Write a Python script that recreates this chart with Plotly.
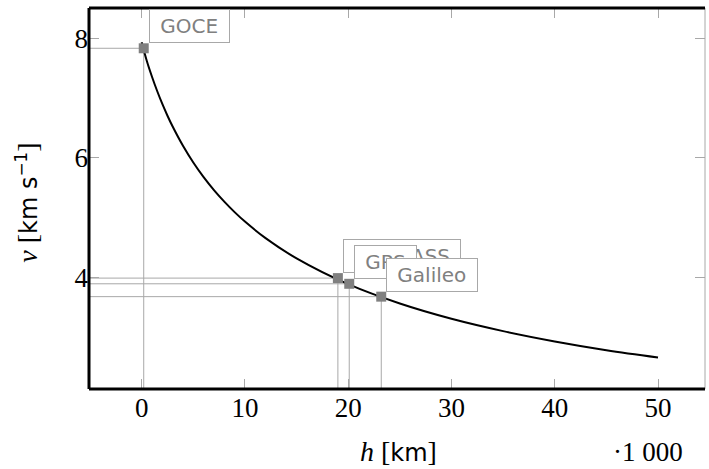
import plotly.graph_objects as go

# curve: orbital speed vs altitude
h_curve = [0, 0.5, 1, 1.5, 2, 2.5, 3, 4, 5, 6, 7, 8, 9, 10, 12, 15, 20, 25, 30, 35, 40, 45, 50]
v_curve = [7.93, 7.617, 7.354, 7.116, 6.90, 6.703, 6.522, 6.20, 5.921, 5.676, 5.46, 5.267, 5.092,
           4.934, 4.658, 4.319, 3.888, 3.565, 3.31, 3.104, 2.932, 2.786, 2.665]

# satellites
sat_names = ["GOCE", "GLONASS", "GPS", "Galileo"]
sat_h = [0.2, 19.0, 20.1, 23.2]
sat_v = [7.83, 3.99, 3.895, 3.68]

x_ticks = [0, 10, 20, 30, 40, 50]
y_ticks = [4, 6, 8]
x_range = [-5.1, 54.55]
y_range = [2.137, 8.503]

GRAY = "#a8a8a8"
SERIF = "Liberation Serif, DejaVu Serif, serif"
SANS = "DejaVu Sans"

fig = go.Figure()

# reference lines
for h, v in zip(sat_h, sat_v):
    fig.add_trace(go.Scatter(x=[x_range[0], h, h], y=[v, v, y_range[0]], mode="lines",
                             line=dict(color=GRAY, width=1), hoverinfo="skip", showlegend=False))

fig.add_trace(go.Scatter(x=h_curve, y=v_curve, mode="lines",
                         line=dict(color="black", width=2, shape="spline"), showlegend=False))

fig.add_trace(go.Scatter(x=sat_h, y=sat_v, mode="markers",
                         marker=dict(symbol="square", size=10, color="#808080", line=dict(width=0)),
                         showlegend=False))

for name, h, v in zip(sat_names, sat_h, sat_v):
    fig.add_annotation(x=h, y=v, xref="x", yref="y", text=f"&nbsp;{name}&nbsp;", showarrow=False,
                       xanchor="left", yanchor="bottom", xshift=5, yshift=5,
                       font=dict(family=SANS, size=20, color="#808080"),
                       bgcolor="white", bordercolor=GRAY, borderwidth=1, borderpad=4)

# frame
fig.add_shape(type="line", xref="paper", yref="paper", x0=1, x1=1, y0=0, y1=1,
              line=dict(color=GRAY, width=1))
for x0, x1, y0, y1 in [(0, 1, 0, 0), (0, 1, 1, 1), (0, 0, 0, 1)]:
    fig.add_shape(type="line", xref="paper", yref="paper", x0=x0, x1=x1, y0=y0, y1=y1,
                  line=dict(color="black", width=3))

axis_common = dict(showgrid=False, zeroline=False, showline=False, ticks="inside", ticklen=10,
                   tickwidth=1, tickcolor=GRAY, mirror="ticks",
                   tickfont=dict(family=SERIF, size=27, color="black"))
fig.update_xaxes(range=x_range, tickvals=x_ticks, ticktext=[str(t) for t in x_ticks], **axis_common)
fig.update_yaxes(range=y_range, tickvals=y_ticks, ticktext=[str(t) for t in y_ticks], **axis_common)

# axis titles
fig.add_annotation(xref="paper", yref="paper", x=0.502, y=-0.165, xanchor="center", yanchor="middle",
                   text=f"<i>h</i> [<span style='font-family:{SANS};font-size:24px'>km</span>]",
                   showarrow=False, font=dict(family=SERIF, size=28, color="black"))
fig.add_annotation(xref="paper", yref="paper", x=0.907, y=-0.165, xanchor="center", yanchor="middle",
                   text="·1 000", showarrow=False, font=dict(family=SERIF, size=27, color="black"))
fig.add_annotation(xref="paper", yref="paper", x=-0.1, y=0.49, xanchor="center", yanchor="middle",
                   textangle=-90,
                   text=f"<i>v</i> [<span style='font-family:{SANS};font-size:24px'>km s<sup>−1</sup></span>]",
                   showarrow=False, font=dict(family=SERIF, size=28, color="black"))

fig.update_layout(width=709, height=469, margin=dict(l=89, r=4, t=7.5, b=79.5),
                  plot_bgcolor="white", paper_bgcolor="white")

fig.write_html("out.html")
